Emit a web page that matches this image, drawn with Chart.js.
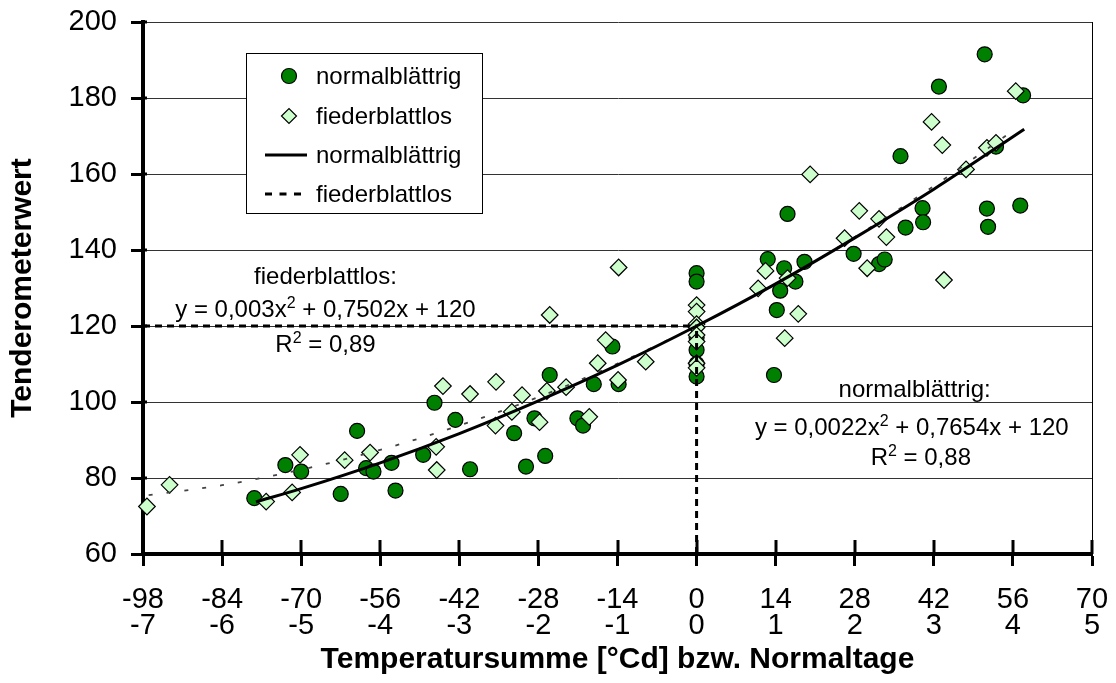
<!DOCTYPE html>
<html>
<head>
<meta charset="utf-8">
<script src="https://cdn.jsdelivr.net/npm/chart.js@4/dist/chart.umd.min.js"></script>
<style>
    html, body { margin: 0; padding: 0; background: #fff; }
    #wrap { width: 1116px; height: 683px; position: relative; }
</style>
</head>
<body>
<div id="wrap"><canvas id="chart"></canvas></div>
<script>
const FONT = "'Liberation Sans', Arial, sans-serif";

// normalblättrig (circles)
const normX = [-78.3, -72.8, -70.0, -63.0, -60.1, -58.5, -57.2, -54.0, -53.3, -48.4, -46.4, -42.7,
    -40.1, -32.3, -30.2, -28.7, -26.8, -26.0, -21.1, -20.1, -18.2, -14.9, -13.8,
    0, 0, 0, 0, 0, 0,
    12.6, 13.7, 14.2, 14.8, 15.5, 16.1, 17.5, 19.1, 27.8, 32.3, 33.3, 36.1, 37.0, 40.0, 40.1,
    42.9, 51.0, 51.4, 51.6, 53.0, 57.3, 57.8];
const normY = [74.7, 83.4, 81.7, 75.8, 92.4, 82.6, 81.7, 84.0, 76.7, 86.1, 99.8, 95.3,
    82.3, 91.8, 83.0, 95.7, 85.8, 107.1, 95.7, 93.8, 104.7, 114.6, 104.7,
    133.9, 131.7, 117.0, 113.7, 110.0, 106.7,
    137.6, 107.1, 124.2, 129.3, 135.2, 149.5, 131.7, 136.9, 139.0, 136.3, 137.5, 164.7, 145.9, 151.0, 147.3,
    183.0, 191.5, 150.9, 146.1, 167.2, 151.7, 180.7];

// fiederblattlos (diamonds)
const fiedX = [-97.3, -93.3, -76.2, -71.6, -70.2, -62.3, -57.8, -46.1, -46.0, -44.9, -40.1, -35.5,
    -35.6, -32.7, -30.9, -27.8, -26.5, -26.0, -23.1, -19.0, -17.5, -16.1, -13.9, -13.8, -9.0,
    0, 0, 0, 0, 0, 0, 0, 0,
    10.9, 12.2, 15.6, 16.1, 18.0, 20.1, 26.2, 28.8, 30.2, 32.3, 33.6, 41.6, 43.5, 43.8,
    47.7, 51.4, 53.0, 56.5];
const fiedY = [72.5, 78.2, 73.8, 76.2, 86.1, 84.7, 86.7, 88.2, 82.1, 104.2, 102.1, 105.3,
    93.8, 97.4, 101.8, 94.7, 102.9, 122.9, 103.9, 96.1, 110.2, 116.3, 105.8, 135.4, 110.6,
    125.5, 123.8, 120.5, 119.6, 117.6, 115.9, 110.2, 109.0,
    129.9, 134.5, 116.8, 132.6, 123.2, 159.9, 143.1, 150.3, 135.2, 148.2, 143.4, 173.7, 167.6, 132.1,
    161.2, 166.9, 168.2, 181.8];

// trend curves
const normTrendX = [-78, -70, -56, -42, -28, -14, 0, 14, 28, 42, 58];
const normTrendY = [73.7, 77.2, 84.0, 91.7, 100.3, 109.7, 120, 131.1, 143.2, 156.0, 171.8];
const fiedTrendX = [-97, -84, -70, -56, -42, -28, -14, 0, 14, 28, 42, 56];
const fiedTrendY = [75.5, 78.1, 82.2, 87.4, 93.8, 101.3, 110.1, 120, 131.1, 143.4, 156.8, 171.4];

// dashed guide lines (y = 120 left of 0, x = 0 below 120)
const guideHX = [-98, 0];
const guideHY = [120, 120];
const guideVX = [0, 0];
const guideVY = [60, 120];

// two-row x tick labels: Temperatursumme / Normaltage
const xTickTop = ['-98', '-84', '-70', '-56', '-42', '-28', '-14', '0', '14', '28', '42', '56', '70'];
const xTickBottom = ['-7', '-6', '-5', '-4', '-3', '-2', '-1', '0', '1', '2', '3', '4', '5'];

const seriesNames = ['normalblättrig', 'fiederblattlos'];

// equation labels: ^2 marks a superscript
const fiederLines = ['fiederblattlos:', 'y = 0,003x^2 + 0,7502x + 120', 'R^2 = 0,89'];
const normalLines = ['normalblättrig:', 'y = 0,0022x^2 + 0,7654x + 120', 'R^2 = 0,88'];

function pts(xs, ys) {
    return xs.map((x, i) => ({ x: x, y: ys[i] }));
}

function drawRich(ctx, text, cx, baseY, size) {
    const parts = text.split(/\^(\d)/);
    const supSize = Math.round(size * 0.66);
    let w = 0;
    parts.forEach((p, i) => {
        ctx.font = `${i % 2 ? supSize : size}px ${FONT}`;
        w += ctx.measureText(p).width;
    });
    let x = cx - w / 2;
    parts.forEach((p, i) => {
        const sup = i % 2 === 1;
        ctx.font = `${sup ? supSize : size}px ${FONT}`;
        ctx.fillText(p, x, sup ? baseY - size * 0.38 : baseY);
        x += ctx.measureText(p).width;
    });
}

// cross tick marks, plot frame, equations and legend box
const extrasPlugin = {
    id: 'extras',
    beforeDatasetsDraw(chart) {
        const ctx = chart.ctx;
        const a = chart.chartArea;
        const xs = chart.scales.x, ys = chart.scales.y;
        ctx.save();
        ctx.strokeStyle = '#000';
        ctx.lineWidth = 3;
        xs.ticks.forEach(t => {
            const px = Math.round(xs.getPixelForValue(t.value));
            ctx.beginPath();
            ctx.moveTo(px, a.bottom);
            ctx.lineTo(px, a.bottom - 14);
            ctx.stroke();
        });
        ys.ticks.forEach(t => {
            const py = Math.round(ys.getPixelForValue(t.value));
            ctx.beginPath();
            ctx.moveTo(a.left, py);
            ctx.lineTo(a.left + 4, py);
            ctx.stroke();
        });
        ctx.lineWidth = 1;
        ctx.beginPath();
        ctx.moveTo(Math.round(a.right) + 0.5, a.top);
        ctx.lineTo(Math.round(a.right) + 0.5, a.bottom);
        ctx.stroke();
        ctx.restore();
    },
    afterDatasetsDraw(chart) {
        const ctx = chart.ctx;
        const a = chart.chartArea;
        const xs = chart.scales.x, ys = chart.scales.y;
        ctx.save();
        ctx.fillStyle = '#000';
        ctx.textAlign = 'left';
        ctx.textBaseline = 'alphabetic';

        // equations
        const fBase = [131.05, 122.3, 113.2];
        fiederLines.forEach((t, i) => {
            drawRich(ctx, t, xs.getPixelForValue(-65.7), ys.getPixelForValue(fBase[i]), 24);
        });
        const nBase = [101.3, 91.3, 83.4];
        const nCx = [38.6, 38.1, 39.7];
        normalLines.forEach((t, i) => {
            drawRich(ctx, t, xs.getPixelForValue(nCx[i]), ys.getPixelForValue(nBase[i]), 24);
        });

        // legend
        const bx = a.left + 103, by = a.top + 31, bw = 236, bh = 160;
        ctx.fillStyle = '#fff';
        ctx.fillRect(bx, by, bw, bh);
        ctx.strokeStyle = '#000';
        ctx.lineWidth = 1;
        ctx.strokeRect(bx + 0.5, by + 0.5, bw, bh);

        const ds = chart.data.datasets;
        const rowY = [by + 23, by + 63, by + 102, by + 141];
        const mx = bx + 43, textX = bx + 70;
        ctx.font = `24px ${FONT}`;
        ctx.textBaseline = 'middle';
        for (let i = 0; i < 4; i++) {
            const d = ds[i];
            const y = rowY[i];
            ctx.save();
            if (i === 0) {
                ctx.beginPath();
                ctx.arc(mx, y, 7.5, 0, Math.PI * 2);
                ctx.fillStyle = d.backgroundColor;
                ctx.fill();
                ctx.lineWidth = 1.2;
                ctx.strokeStyle = d.borderColor;
                ctx.stroke();
            } else if (i === 1) {
                const r = 7.5;
                ctx.beginPath();
                ctx.moveTo(mx - r, y);
                ctx.lineTo(mx, y - r);
                ctx.lineTo(mx + r, y);
                ctx.lineTo(mx, y + r);
                ctx.closePath();
                ctx.fillStyle = d.backgroundColor;
                ctx.fill();
                ctx.lineWidth = 1.2;
                ctx.strokeStyle = d.borderColor;
                ctx.stroke();
            } else {
                ctx.beginPath();
                ctx.strokeStyle = '#000';
                ctx.lineWidth = 3;
                if (i === 3) ctx.setLineDash([7, 7.5]);
                ctx.moveTo(bx + 19, y);
                ctx.lineTo(bx + 61, y);
                ctx.stroke();
            }
            ctx.restore();
            ctx.fillStyle = '#000';
            ctx.fillText(d.label, textX, y + 1);
        }
        ctx.restore();
    }
};

Chart.defaults.font.family = FONT;
Chart.defaults.color = '#000';

const ctx = document.getElementById('chart').getContext('2d');
new Chart(ctx, {
    type: 'scatter',
    data: {
        datasets: [
            {
                label: seriesNames[0],
                data: pts(normX, normY),
                pointStyle: 'circle',
                pointRadius: 7.5,
                backgroundColor: '#008000',
                borderColor: '#000',
                borderWidth: 1.2,
                clip: false,
                order: 3
            },
            {
                label: seriesNames[1],
                data: pts(fiedX, fiedY),
                pointStyle: 'rectRot',
                pointRadius: 8.3,
                backgroundColor: '#ccffcc',
                borderColor: '#000',
                borderWidth: 1.2,
                clip: false,
                order: 2
            },
            {
                label: seriesNames[0],
                data: pts(normTrendX, normTrendY),
                showLine: true,
                pointRadius: 0,
                borderColor: '#000',
                borderWidth: 3,
                cubicInterpolationMode: 'monotone',
                order: 1
            },
            {
                label: seriesNames[1],
                data: pts(fiedTrendX, fiedTrendY),
                showLine: true,
                pointRadius: 0,
                borderColor: '#444',
                borderWidth: 1.8,
                borderDash: [4, 14],
                cubicInterpolationMode: 'monotone',
                order: 1
            },
            {
                label: 'guideH',
                data: pts(guideHX, guideHY),
                showLine: true,
                pointRadius: 0,
                borderColor: '#000',
                borderWidth: 3,
                borderDash: [7, 5],
                order: 0
            },
            {
                label: 'guideV',
                data: pts(guideVX, guideVY),
                showLine: true,
                pointRadius: 0,
                borderColor: '#000',
                borderWidth: 3,
                borderDash: [7, 5],
                order: 0
            }
        ]
    },
    options: {
        responsive: true,
        maintainAspectRatio: false,
        animation: false,
        layout: { padding: { top: 22, right: 24, left: 0, bottom: 0 } },
        plugins: {
            legend: { display: false },
            tooltip: { enabled: false }
        },
        scales: {
            x: {
                type: 'linear',
                position: 'bottom',
                min: -98,
                max: 70,
                afterFit: (scale) => {
                    scale.height = 129;
                    scale.paddingLeft = 0;
                    scale.paddingRight = 0;
                },
                ticks: {
                    stepSize: 14,
                    autoSkip: false,
                    maxRotation: 0,
                    padding: 21,
                    font: { size: 29, lineHeight: 0.886 },
                    callback: (v) => {
                        const i = xTickTop.indexOf(String(v));
                        return i < 0 ? '' : [xTickTop[i], xTickBottom[i]];
                    }
                },
                grid: {
                    drawOnChartArea: false,
                    drawTicks: true,
                    tickLength: 12,
                    tickWidth: 3,
                    tickColor: '#000'
                },
                border: { display: true, width: 4, color: '#000' },
                title: {
                    display: true,
                    text: 'Temperatursumme [°Cd] bzw. Normaltage',
                    font: { size: 30, weight: 'bold', lineHeight: 1.2 },
                    padding: { top: 0, bottom: 5 }
                }
            },
            y: {
                min: 60,
                max: 200,
                afterFit: (scale) => {
                    scale.width = 143;
                    scale.paddingTop = 0;
                    scale.paddingBottom = 0;
                },
                ticks: {
                    stepSize: 20,
                    padding: 14,
                    font: { size: 29 }
                },
                grid: {
                    color: '#333',
                    lineWidth: 1,
                    drawTicks: true,
                    tickLength: 12,
                    tickWidth: 3,
                    tickColor: '#000'
                },
                border: { display: true, width: 4, color: '#000' },
                title: {
                    display: true,
                    text: 'Tenderometerwert',
                    font: { size: 30, weight: 'bold', lineHeight: 1.2 },
                    padding: { top: 5, bottom: 0 }
                }
            }
        }
    },
    plugins: [extrasPlugin]
});
</script>
</body>
</html>
